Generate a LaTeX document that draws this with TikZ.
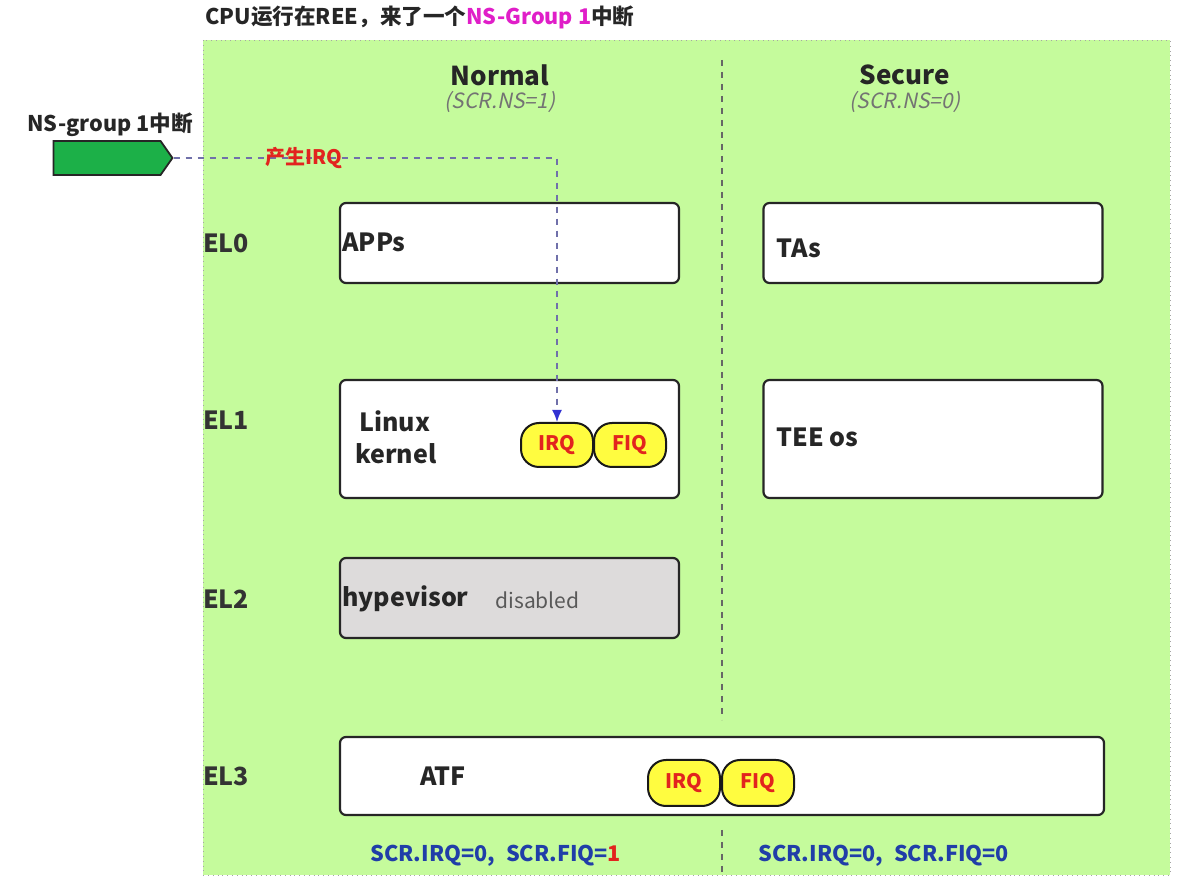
\documentclass[tikz,border=0pt]{standalone}
\usepackage{fontspec}
\setmainfont{Noto Sans CJK SC}[AutoFakeSlant=0.2]
\usetikzlibrary{shapes.symbols,arrows.meta}

\definecolor{bggreen}{RGB}{197,251,156}
\definecolor{srcgreen}{RGB}{28,176,72}
\definecolor{nsmagenta}{RGB}{224,30,200}
\definecolor{scrblue}{RGB}{32,62,168}
\definecolor{irqred}{RGB}{226,36,30}
\definecolor{pillyellow}{RGB}{255,252,64}
\definecolor{lineblue}{RGB}{112,112,170}
\definecolor{tipblue}{RGB}{50,50,210}
\definecolor{hypgray}{RGB}{221,219,219}

\tikzset{
  elbox/.style={draw=black!85, line width=1.1pt, rounded corners=3pt, fill=white,
    minimum width=169.5pt, minimum height=40pt, inner sep=0pt},
  pill/.style={draw=black!90, line width=1pt, rounded corners=9pt, fill=pillyellow,
    minimum width=36pt, minimum height=22pt, inner sep=0pt, text=irqred,
    font=\bfseries\fontsize{10}{12}\selectfont},
  ellab/.style={font=\bfseries\fontsize{12.5}{14}\selectfont, text=black!80},
  boxtext/.style={anchor=west, inner sep=0pt, text=black!85,
    font=\bfseries\fontsize{12.5}{16}\selectfont},
  worldlab/.style={font=\bfseries\fontsize{13}{15}\selectfont, text=black!85},
  nslab/.style={font=\itshape\fontsize{10.5}{12}\selectfont, text=black!55},
  scrlab/.style={anchor=west, inner sep=0pt, text=scrblue,
    font=\bfseries\fontsize{10.8}{12}\selectfont},
  divider/.style={dashed, black!60, line width=0.8pt},
}

\begin{document}
\begin{tikzpicture}[x=0.5pt,y=-0.5pt]
	\useasboundingbox (0,0) rectangle (1179,881);
	
	%%%%% frame %%%%%
	\draw[draw=black!35, dotted, fill=bggreen] (203,40) rectangle (1170,875);
	\node[anchor=west, inner sep=0pt, text=black!85, font=\bfseries\fontsize{10.8}{12}\selectfont] (title) at (205,17)
		{CPU运行在REE，来了一个\textcolor{nsmagenta}{NS-Group 1}中断};
	
	\draw[divider] (722,60) -- (722,720);
	\draw[divider] (722,830) -- (722,878);
	
	\node[worldlab] (normal) at (500,75) {Normal};
	\node[nslab] (normalns) at (500,102) {(SCR.NS=1)};
	\node[worldlab] (secure) at (905,75) {Secure};
	\node[nslab] (securens) at (905,102) {(SCR.NS=0)};
	
	%%%%% exception levels %%%%%
	\node[ellab] (el0) at (226,243) {EL0};
	\node[ellab] (el1) at (226,420) {EL1};
	\node[ellab] (el2) at (226,599) {EL2};
	\node[ellab] (el3) at (226,776) {EL3};
	
	%%%%% boxes %%%%%
	\node[elbox] (apps) at (509.5,243) {};
	\node[boxtext] (appstext) at (342,242) {APPs};
	\node[elbox] (tas) at (933,243) {};
	\node[boxtext] (tastext) at (776,248) {TAs};
	
	\node[elbox, minimum height=59pt] (linux) at (509.5,439) {};
	\node[boxtext, align=left] (linuxtext) at (355,437) {\,Linux\\kernel};
	\node[pill] (irqA) at (557,445) {IRQ};
	\node[pill] (fiqA) at (630,445) {FIQ};
	\node[elbox, minimum height=59pt] (tee) at (933,439) {};
	\node[boxtext] (teetext) at (776,437) {TEE os};
	
	\node[elbox, fill=hypgray] (hyp) at (509.5,598) {};
	\node[boxtext] (hyptext) at (342,599) {hypevisor};
	\node[anchor=west, inner sep=0pt, text=black!65, font=\fontsize{10.5}{12}\selectfont] (hypoff) at (495,600) {disabled};
	
	\node[elbox, minimum width=382pt, minimum height=39pt] (atf) at (722,776) {};
	\node[boxtext] (atftext) at (420,776) {ATF};
	\node[pill, minimum height=23pt] (irqB) at (684,783) {IRQ};
	\node[pill, minimum height=23pt] (fiqB) at (758,783) {FIQ};
	
	\node[scrlab] (scrns) at (370,856) {SCR.IRQ=0,\; SCR.FIQ=\textcolor{irqred}{1}};
	\node[scrlab] (scrs) at (758,856) {SCR.IRQ=0,\; SCR.FIQ=0};
	
	%%%%% interrupt source %%%%%
	\node[text=black!85, font=\bfseries\fontsize{10.8}{12}\selectfont] (srclab) at (110,125) {NS-group 1中断};
	\node[signal, signal to=east, signal pointer angle=110, draw=black!85, line width=0.9pt, fill=srcgreen,
		minimum width=59.5pt, minimum height=17pt, inner sep=0pt] (src) at (107,158) {};
	
	\draw[lineblue, dashed, line width=0.8pt, -{Latex[length=6pt,width=5pt,color=tipblue]}]
		(src.east) -| (irqA.north)
		node[pos=0.17, text=irqred, font=\bfseries\fontsize{10}{12}\selectfont] (irqlab) {产生IRQ};
	
\end{tikzpicture}
\end{document}
